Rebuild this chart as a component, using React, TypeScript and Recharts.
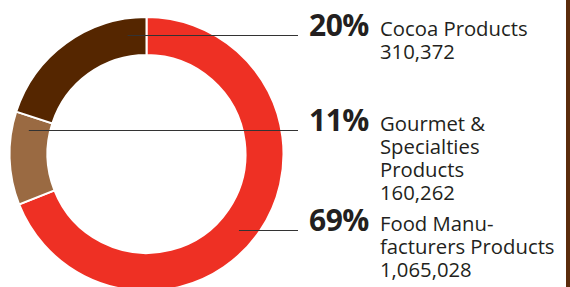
import { PieChart, Pie, Cell } from "recharts";

const CATEGORIES = ["Food Manufacturers Products", "Gourmet & Specialties Products", "Cocoa Products"];
const SHARES = [69, 11, 20];
const SHARE_LABELS = ["69%", "11%", "20%"];
const NAME_LINES = [["Food Manu-", "facturers Products"], ["Gourmet &", "Specialties", "Products"], ["Cocoa Products"]];
const AMOUNT_LABELS = ["1,065,028", "160,262", "310,372"];

const COLORS = ["#ee3024", "#9a6a42", "#552600"];
// baseline of the first label line, per slice
const LABEL_Y = [230.5, 130.5, 35.5];
const LINE_R = 120;
const LINE_END = 298;
const PCT_X = 309;
const TEXT_X = 380;
const LINE_H = 23;

const data = CATEGORIES.map((name, i) => ({ name, value: SHARES[i] }));

const renderLabel = (props: any) => {
  const { cx, cy, index } = props;
  const y = LABEL_Y[index];
  const dy = y - cy;
  const half = Math.sqrt(Math.max(LINE_R * LINE_R - dy * dy, 0));
  // only the big red slice reaches round to the right side of the ring
  const startX = index === 0 ? cx + half : cx - half;
  const lines = [...NAME_LINES[index], AMOUNT_LABELS[index]];
  return (
    <g key={`lbl-${index}`}>
      <line x1={startX} y1={y} x2={LINE_END} y2={y} stroke="#333" strokeWidth={1.2} />
      <text
        x={PCT_X}
        y={y}
        fontFamily="'Open Sans', sans-serif"
        fontWeight={700}
        fontSize={30}
        letterSpacing={-0.5}
        fill="#231f20"
      >
        {SHARE_LABELS[index]}
      </text>
      {lines.map((t, j) => (
        <text
          key={j}
          x={TEXT_X}
          y={y + j * LINE_H}
          fontFamily="'Open Sans', sans-serif"
          fontSize={20.3}
          fill="#231f20"
        >
          {t}
        </text>
      ))}
    </g>
  );
};

export default function App() {
  return (
    <div style={{ position: "absolute", left: 0, top: 0, width: 570, height: 287, background: "#fff", overflow: "hidden" }}>
      <PieChart width={570} height={287} margin={{ top: 0, right: 0, bottom: 0, left: 0 }}>
        <Pie
          data={data}
          dataKey="value"
          cx={146.5}
          cy={154}
          innerRadius={99}
          outerRadius={137}
          startAngle={90}
          endAngle={-270}
          stroke="#fff"
          strokeWidth={2}
          label={renderLabel}
          labelLine={false}
          isAnimationActive={false}
        >
          {data.map((_, i) => (
            <Cell key={`cell-${i}`} fill={COLORS[i]} />
          ))}
        </Pie>
      </PieChart>
      <div style={{ position: "absolute", left: 566, top: 0, width: 4, height: 287, background: "#5b2c0c" }} />
    </div>
  );
}
